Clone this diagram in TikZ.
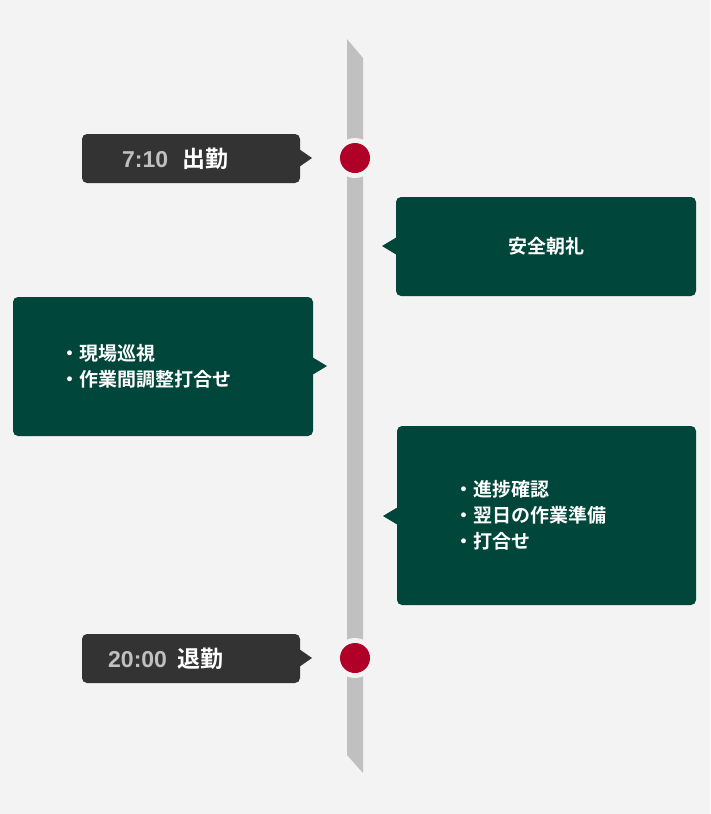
\documentclass[tikz,border=0pt]{standalone}
\usepackage{fontspec}
\setmainfont{Liberation Sans}
\newfontfamily\cjk{Noto Sans CJK JP}[BoldFont={* Bold}]
\begin{document}
\begin{tikzpicture}[x=1pt,y=-1pt,
  darkbox/.style={fill=dark,rounded corners=5pt},
  greenbox/.style={fill=green1,rounded corners=5pt},
  label/.style={font=\cjk\bfseries\fontsize{19}{26}\selectfont,text=white,align=left}]
\definecolor{bg}{HTML}{F3F3F3}
\definecolor{dark}{HTML}{333333}
\definecolor{green1}{HTML}{00463A}
\definecolor{barc}{HTML}{C0C0C0}
\definecolor{redc}{HTML}{B00028}
\fill[bg] (0,0) rectangle (710,814);
\useasboundingbox (0,0) rectangle (710,814);
% bar
\fill[barc] (347,39) -- (363,58) -- (363,773) -- (347,755) -- cycle;
\foreach \n/\y in {c1/158,c2/658}{
  \fill[bg] (355,\y) circle (20);
  \node[circle,fill=redc,minimum size=30pt,inner sep=0] (\n) at (355,\y) {};
}
% dark boxes
\fill[darkbox] (82,134) rectangle (300,183);
\fill[dark] (299,149) -- (312,158) -- (299,167) -- cycle;
\node[anchor=west,inner sep=0] (t1) at (122,159) {\fontsize{23}{26}\selectfont\bfseries\color{barc}7:10\hspace{14pt}\color{white}\cjk\bfseries 出勤};
\fill[darkbox] (82,634) rectangle (300,683);
\fill[dark] (299,649) -- (312,658) -- (299,667) -- cycle;
\node[anchor=west,inner sep=0] (t2) at (108,659) {\fontsize{23}{26}\selectfont\bfseries\color{barc}20:00\hspace{10pt}\color{white}\cjk\bfseries 退勤};
% green boxes
\fill[greenbox] (396,197) rectangle (696,296);
\fill[green1] (397,237) -- (382,246) -- (397,255) -- cycle;
\node[label] (g1) at (546,246) {安全朝礼};
\fill[greenbox] (13,297) rectangle (313,436);
\fill[green1] (312,357) -- (327,366) -- (312,375) -- cycle;
\node[label,anchor=west] (g2) at (57,366) {・現場巡視\\・作業間調整打合せ};
\fill[greenbox] (397,426) rectangle (696,605);
\fill[green1] (398,507) -- (383,516) -- (398,525) -- cycle;
\node[label,anchor=west] (g3) at (451,515) {・進捗確認\\・翌日の作業準備\\・打合せ};
\end{tikzpicture}
\end{document}
